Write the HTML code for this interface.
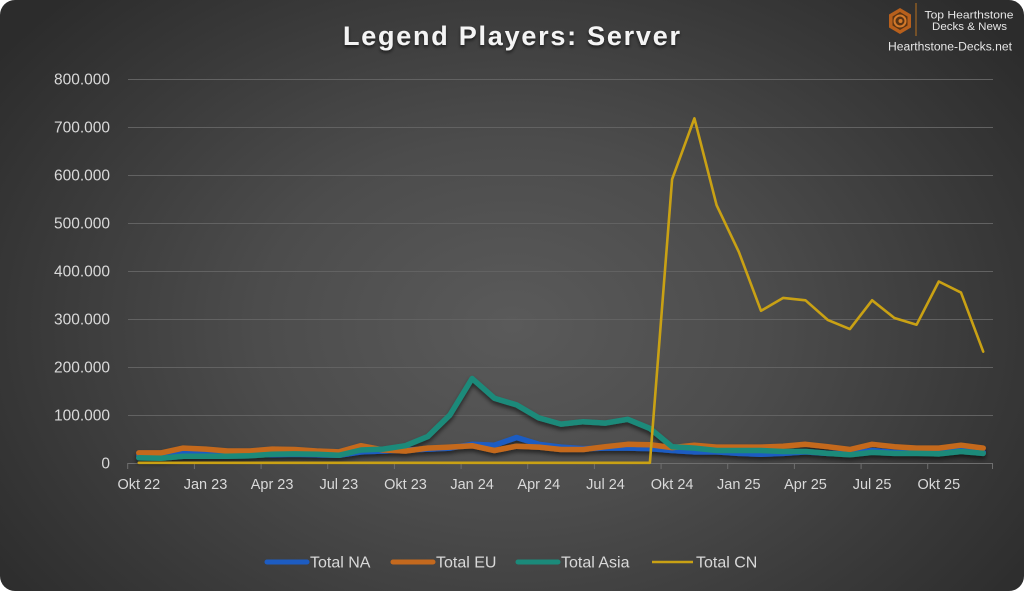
<!DOCTYPE html>
<html>
<head>
<meta charset="utf-8">
<style>
  html,body{margin:0;padding:0;background:#ffffff;}
  body{width:1024px;height:591px;overflow:hidden;}
  .card{position:absolute;left:0;top:0;width:1024px;height:591px;border-radius:15px;overflow:hidden;
    background: radial-gradient(ellipse 62% 78% at 50% 55%, #5a5a5a 0%, #4c4c4c 40%, #393939 75%, #2c2c2c 100%);}
  svg{position:absolute;left:0;top:0;}
  text{font-family:"Liberation Sans", sans-serif;}
</style>
</head>
<body>
<div class="card">
<svg width="1024" height="591" viewBox="0 0 1024 591" xmlns="http://www.w3.org/2000/svg">
  <defs>
    <filter id="sh" x="-5%" y="-20%" width="110%" height="160%">
      <feDropShadow dx="0" dy="3" stdDeviation="2" flood-color="#000" flood-opacity="0.55"/>
    </filter>
    <filter id="tsh" x="-5%" y="-30%" width="110%" height="160%">
      <feDropShadow dx="0" dy="2" stdDeviation="1.5" flood-color="#000" flood-opacity="0.6"/>
    </filter>
  </defs>

  <!-- Title -->
  <text x="511.5" y="45" text-anchor="middle" font-size="27" font-weight="bold" fill="#f4f4f4" textLength="337" lengthAdjust="spacing" filter="url(#tsh)">Legend Players: Server</text>

  <!-- Logo -->
  <g>
    <polygon points="900,8 911,14.5 911,27.5 900,34 889,27.5 889,14.5" fill="#b8601c"/>
    <polygon points="900,12 907.5,16.5 907.5,25.5 900,30 892.5,25.5 892.5,16.5" fill="#5a3414"/>
    <circle cx="900" cy="21" r="5.5" fill="none" stroke="#d47a2a" stroke-width="2"/>
    <circle cx="900.5" cy="21" r="2" fill="#d47a2a"/>
    <line x1="916" y1="3" x2="916" y2="36" stroke="#b8701e" stroke-width="1"/>
    <text x="969" y="18.5" text-anchor="middle" font-size="11" fill="#e6e6e6" textLength="89" lengthAdjust="spacingAndGlyphs">Top Hearthstone</text>
    <text x="969.5" y="30" text-anchor="middle" font-size="11" fill="#e6e6e6" textLength="75" lengthAdjust="spacingAndGlyphs">Decks &amp; News</text>
    <text x="950" y="50.5" text-anchor="middle" font-size="11.5" fill="#e6e6e6" textLength="124" lengthAdjust="spacingAndGlyphs">Hearthstone-Decks.net</text>
  </g>

  <!-- Gridlines -->
  <g stroke="#626262" stroke-width="1">
    <line x1="128" y1="79.5" x2="993" y2="79.5"/>
    <line x1="128" y1="127.5" x2="993" y2="127.5"/>
    <line x1="128" y1="175.5" x2="993" y2="175.5"/>
    <line x1="128" y1="223.5" x2="993" y2="223.5"/>
    <line x1="128" y1="271.5" x2="993" y2="271.5"/>
    <line x1="128" y1="319.5" x2="993" y2="319.5"/>
    <line x1="128" y1="367.5" x2="993" y2="367.5"/>
    <line x1="128" y1="415.5" x2="993" y2="415.5"/>
  </g>
  <!-- Axis -->
  <g stroke="#6e6e6e" stroke-width="1">
    <line x1="128" y1="463.5" x2="993" y2="463.5"/>
    <line x1="127.7" y1="463" x2="127.7" y2="469"/>
    <line x1="194.4" y1="463" x2="194.4" y2="469"/>
    <line x1="261.1" y1="463" x2="261.1" y2="469"/>
    <line x1="327.7" y1="463" x2="327.7" y2="469"/>
    <line x1="394.4" y1="463" x2="394.4" y2="469"/>
    <line x1="461.1" y1="463" x2="461.1" y2="469"/>
    <line x1="527.7" y1="463" x2="527.7" y2="469"/>
    <line x1="594.4" y1="463" x2="594.4" y2="469"/>
    <line x1="661.1" y1="463" x2="661.1" y2="469"/>
    <line x1="727.7" y1="463" x2="727.7" y2="469"/>
    <line x1="794.4" y1="463" x2="794.4" y2="469"/>
    <line x1="861.1" y1="463" x2="861.1" y2="469"/>
    <line x1="927.7" y1="463" x2="927.7" y2="469"/>
    <line x1="992.5" y1="463" x2="992.5" y2="469"/>
  </g>

  <!-- Y labels -->
  <g font-size="15.5" fill="#d9d9d9" text-anchor="end">
    <text x="110" y="84.5">800.000</text>
    <text x="110" y="132.5">700.000</text>
    <text x="110" y="180.5">600.000</text>
    <text x="110" y="228.5">500.000</text>
    <text x="110" y="276.5">400.000</text>
    <text x="110" y="324.5">300.000</text>
    <text x="110" y="372.5">200.000</text>
    <text x="110" y="420.5">100.000</text>
    <text x="110" y="468.5">0</text>
  </g>

  <!-- X labels -->
  <g font-size="14.5" fill="#d9d9d9" text-anchor="middle">
    <text x="138.8" y="489">Okt 22</text>
    <text x="205.5" y="489">Jan 23</text>
    <text x="272.1" y="489">Apr 23</text>
    <text x="338.8" y="489">Jul 23</text>
    <text x="405.5" y="489">Okt 23</text>
    <text x="472.1" y="489">Jan 24</text>
    <text x="538.8" y="489">Apr 24</text>
    <text x="605.5" y="489">Jul 24</text>
    <text x="672.1" y="489">Okt 24</text>
    <text x="738.8" y="489">Jan 25</text>
    <text x="805.5" y="489">Apr 25</text>
    <text x="872.1" y="489">Jul 25</text>
    <text x="938.8" y="489">Okt 25</text>
  </g>

  <!-- Series -->
  <g fill="none" stroke-linejoin="round" stroke-linecap="round" filter="url(#sh)">
    <!-- NA -->
    <polyline stroke="#1d5cc2" stroke-width="5.5" points="138.8,455.3 161.0,455.8 183.2,453.4 205.5,453.9 227.7,454.3 249.9,454.3 272.1,454.8 294.4,454.3 316.6,454.8 338.8,455.3 361.0,451.9 383.2,451.0 405.5,450.0 427.7,449.1 449.9,448.1 472.1,444.3 494.4,445.2 516.6,437.5 538.8,444.3 561.0,447.1 583.2,448.6 605.5,448.1 627.7,448.1 649.9,448.6 672.1,450.5 694.4,451.9 716.6,451.9 738.8,453.4 761.0,454.3 783.2,453.4 805.5,451.9 827.7,453.4 849.9,453.9 872.1,450.5 894.4,452.4 916.6,452.9 938.8,452.4 961.0,450.0 983.2,452.4"/>
    <!-- EU -->
    <polyline stroke="#c4691e" stroke-width="5.5" points="138.8,452.9 161.0,452.9 183.2,448.1 205.5,449.1 227.7,451.0 249.9,451.0 272.1,449.1 294.4,449.5 316.6,451.0 338.8,451.9 361.0,445.7 383.2,450.0 405.5,451.0 427.7,448.1 449.9,447.1 472.1,445.7 494.4,450.5 516.6,446.2 538.8,447.1 561.0,449.5 583.2,449.5 605.5,446.7 627.7,444.3 649.9,444.7 672.1,447.6 694.4,445.2 716.6,447.1 738.8,447.1 761.0,447.1 783.2,446.2 805.5,444.3 827.7,446.7 849.9,449.5 872.1,444.3 894.4,446.7 916.6,448.1 938.8,448.1 961.0,445.2 983.2,448.1"/>
    <!-- Asia -->
    <polyline stroke="#1b8a7a" stroke-width="5.5" points="138.8,457.7 161.0,458.2 183.2,456.3 205.5,456.3 227.7,456.3 249.9,455.8 272.1,454.3 294.4,453.9 316.6,454.3 338.8,455.3 361.0,450.0 383.2,449.1 405.5,445.7 427.7,436.6 449.9,415.0 472.1,378.5 494.4,398.2 516.6,404.9 538.8,417.9 561.0,424.1 583.2,421.7 605.5,423.1 627.7,419.3 649.9,428.4 672.1,446.7 694.4,448.1 716.6,450.5 738.8,450.5 761.0,450.5 783.2,451.5 805.5,451.5 827.7,453.4 849.9,454.8 872.1,452.4 894.4,453.4 916.6,453.4 938.8,453.9 961.0,451.5 983.2,453.4"/>
  </g>
  <!-- CN -->
  <polyline fill="none" stroke="#c9a114" stroke-width="2.6" stroke-linejoin="round" stroke-linecap="round" points="138.8,462.8 649.9,462.8 672.1,179.3 694.4,118.3 716.6,205.2 738.8,251.8 761.0,310.8 783.2,297.9 805.5,300.3 827.7,319.9 849.9,329.1 872.1,300.3 894.4,318.0 916.6,324.7 938.8,281.5 961.0,292.6 983.2,351.6"/>

  <!-- Legend -->
  <g>
    <line x1="267" y1="562" x2="307" y2="562" stroke="#1d5cc2" stroke-width="5" stroke-linecap="round"/>
    <text x="310" y="567.5" font-size="16" fill="#d9d9d9">Total NA</text>
    <line x1="393" y1="562" x2="433" y2="562" stroke="#c4691e" stroke-width="5" stroke-linecap="round"/>
    <text x="436" y="567.5" font-size="16" fill="#d9d9d9">Total EU</text>
    <line x1="518" y1="562" x2="558" y2="562" stroke="#1b8a7a" stroke-width="5" stroke-linecap="round"/>
    <text x="561" y="567.5" font-size="16" fill="#d9d9d9">Total Asia</text>
    <line x1="652" y1="562" x2="693" y2="562" stroke="#c9a114" stroke-width="2.6"/>
    <text x="696" y="567.5" font-size="16" fill="#d9d9d9">Total CN</text>
  </g>
</svg>
</div>
</body>
</html>
